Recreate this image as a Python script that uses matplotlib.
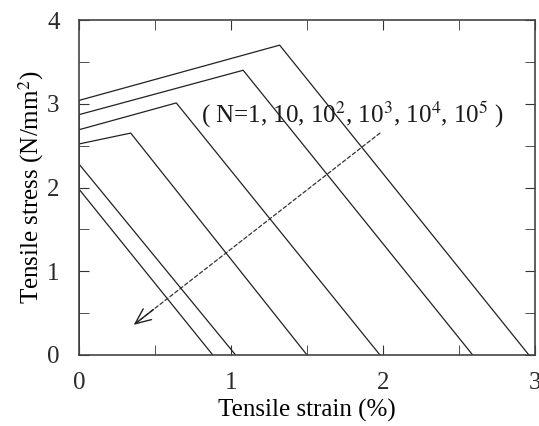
import matplotlib.pyplot as plt
import numpy as np

plt.rcParams['font.family'] = ['Liberation Serif', 'DejaVu Serif']
plt.rcParams['mathtext.fontset'] = 'stix'

# strain (%) / stress (N/mm2) corner points for each curve
strain_1 = [0, 0, 1.32, 2.96]
stress_1 = [0, 3.04, 3.70, 0]
strain_2 = [0, 0, 1.08, 2.59]
stress_2 = [0, 2.87, 3.40, 0]
strain_3 = [0, 0, 0.64, 1.98]
stress_3 = [0, 2.69, 3.01, 0]
strain_4 = [0, 0, 0.34, 1.50]
stress_4 = [0, 2.52, 2.65, 0]
strain_5 = [0, 0, 1.03]
stress_5 = [0, 2.28, 0]
strain_6 = [0, 0, 0.88]
stress_6 = [0, 1.98, 0]

curves = [(strain_1, stress_1), (strain_2, stress_2), (strain_3, stress_3),
          (strain_4, stress_4), (strain_5, stress_5), (strain_6, stress_6)]

arrow_start = (1.98, 2.65)
arrow_end = (0.36, 0.36)

fig = plt.figure(figsize=(5.39, 4.26), dpi=100)
ax = fig.add_axes([0.1466, 0.1667, 0.846, 0.7863])

for sx, sy in curves:
    ax.plot(sx, sy, color='#222222', lw=0.9)

# dashed arrow showing increasing N (dashed shaft, solid head)
ax.annotate('', xy=arrow_end, xytext=arrow_start,
            arrowprops=dict(arrowstyle='-', linestyle=(0, (3, 2)),
                            color='#333333', lw=0.9, shrinkA=0, shrinkB=0))
hx = arrow_end[0] + 0.08 * (arrow_start[0] - arrow_end[0])
hy = arrow_end[1] + 0.08 * (arrow_start[1] - arrow_end[1])
ax.annotate('', xy=arrow_end, xytext=(hx, hy),
            arrowprops=dict(arrowstyle='->,head_length=0.8,head_width=0.35',
                            color='#222222', lw=1.0, mutation_scale=14,
                            shrinkA=0, shrinkB=0))
ax.text(0.80, 2.87, r'( N=1, 10, 10$^2$, 10$^3$, 10$^4$, 10$^5$ )', fontsize=18,
        va='center', ha='left', color='#1a1a1a')

ax.set_xlim(0, 3)
ax.set_ylim(0, 4)
ax.set_xticks([0, 1, 2, 3])
ax.set_yticks([0, 1, 2, 3, 4])
ax.set_xticks(np.arange(0, 3.01, 0.5), minor=True)
ax.set_yticks(np.arange(0, 4.01, 0.5), minor=True)
ax.tick_params(which='both', direction='in', top=True, right=True, color='#333333')
ax.tick_params(which='major', length=7, labelsize=18, labelcolor='#2a2a2a')
ax.tick_params(axis='x', which='major', pad=12)
ax.tick_params(axis='y', which='major', pad=14)
ax.tick_params(which='minor', length=7)
for s in ax.spines.values():
    s.set_color('#444444')
    s.set_linewidth(1.2)

ax.set_xlabel('Tensile strain (%)', fontsize=18, labelpad=4)
ax.set_ylabel(r'Tensile stress (N/mm$^2$)', fontsize=18, labelpad=1)

fig.savefig('out.png', dpi=100)
